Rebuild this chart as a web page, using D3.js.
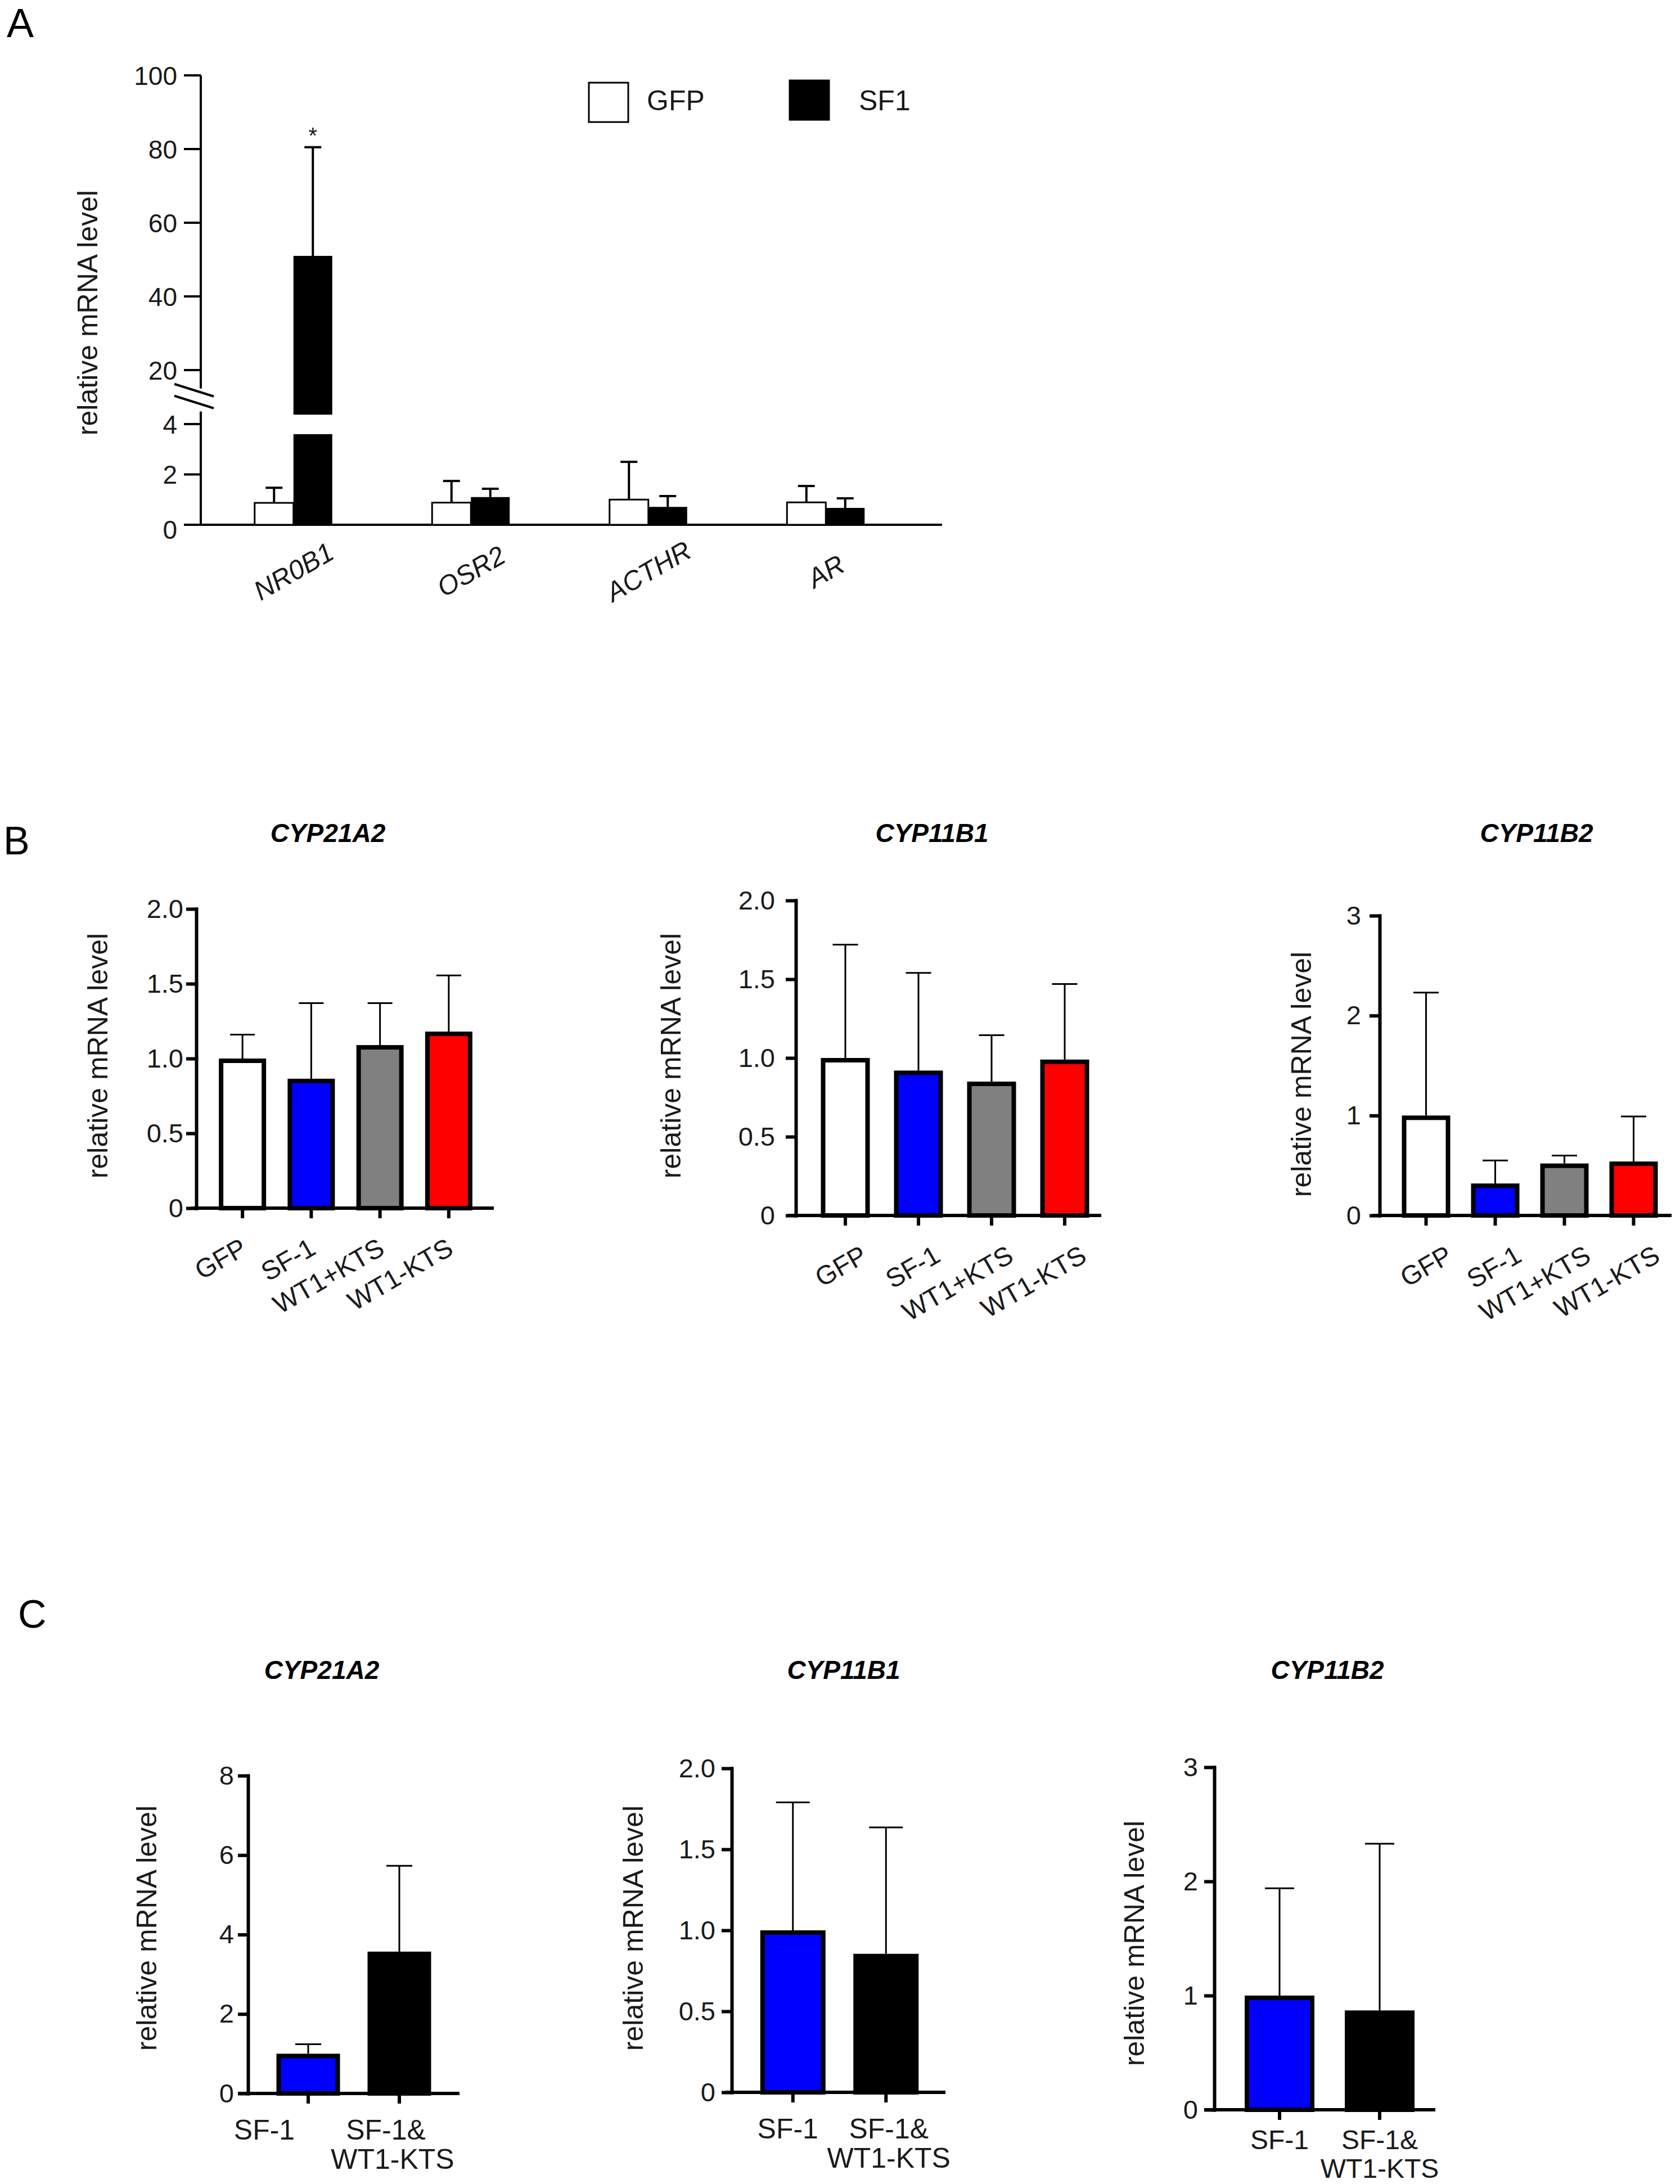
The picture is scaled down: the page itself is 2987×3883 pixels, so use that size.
<!DOCTYPE html>
<html>
<head>
<meta charset="utf-8">
<script src="https://cdn.jsdelivr.net/npm/d3@7/dist/d3.min.js"></script>
<style>
  html, body { margin: 0; padding: 0; background: #ffffff; }
  svg { display: block; }
</style>
</head>
<body>
<script>
// ---------------- DATA ----------------
// Panel A
const aGenes = ["NR0B1", "OSR2", "ACTHR", "AR"];
const aSeries = ["GFP", "SF1"];
const aGfpMean = [0.87, 0.88, 1.0, 0.89];
const aGfpSD   = [0.60, 0.86, 1.5, 0.65];
const aSf1Mean = [51, 1.10, 0.71, 0.67];
const aSf1SD   = [29.5, 0.33, 0.43, 0.38];
const aLowTicks = [0, 2, 4];
const aHighTicks = [20, 40, 60, 80, 100];
const aSignif = ["*", "", "", ""];      // over SF1 bars
const aBreakLow = 3.6;                 // lower segment of broken bar ends here
const aBreakHigh = 7.9;                // upper segment of broken bar starts here

// Panel B
const bGroups = ["GFP", "SF-1", "WT1+KTS", "WT1-KTS"];
const bColors = ["#ffffff", "#0000ff", "#808080", "#ff0000"];
const bTitles = ["CYP21A2", "CYP11B1", "CYP11B2"];
const b21Mean = [1.0, 0.865, 1.09, 1.18];
const b21SD   = [0.16, 0.505, 0.28, 0.375];
const b11B1Mean = [1.0, 0.92, 0.85, 0.99];
const b11B1SD   = [0.72, 0.62, 0.295, 0.48];
const b11B2Mean = [1.0, 0.32, 0.52, 0.54];
const b11B2SD   = [1.23, 0.23, 0.08, 0.45];

// Panel C
const cGroups = ["SF-1", "SF-1&\nWT1-KTS"];
const cColors = ["#0000ff", "#000000"];
const cTitles = ["CYP21A2", "CYP11B1", "CYP11B2"];
const c21Mean = [1.0, 3.57];
const c21SD   = [0.24, 2.16];
const c11B1Mean = [1.0, 0.855];
const c11B1SD   = [0.79, 0.78];
const c11B2Mean = [1.0, 0.87];
const c11B2SD   = [0.94, 1.46];

// Tick sets
const ticks2 = [0, 0.5, 1, 1.5, 2];
const ticks2Labels = ["0", "0.5", "1.0", "1.5", "2.0"];
const ticks3 = [0, 1, 2, 3];
const ticks3Labels = ["0", "1", "2", "3"];
const ticks8 = [0, 2, 4, 6, 8];
const ticks8Labels = ["0", "2", "4", "6", "8"];

const yLabelText = "relative mRNA level";

// ---------------- SETUP ----------------
const W = 2987, H = 3883;
const FONT = "'Liberation Sans', Arial, Helvetica, sans-serif";
const TXT = "#1a1a1a";

const svg = d3.select("body").append("svg")
  .attr("width", W).attr("height", H)
  .attr("viewBox", `0 0 ${W} ${H}`)
  .style("font-family", FONT);

svg.append("rect").attr("width", W).attr("height", H).attr("fill", "#fff");

// Panel letters
[["A", 12, 66, 72], ["B", 6, 1519, 70], ["C", 32, 2894, 70]].forEach(([t, x, y, fs]) => {
  svg.append("text").attr("x", x).attr("y", y).attr("font-size", fs)
    .attr("fill", "#000").text(t);
});

function rotatedYLabel(cx, cy, fs) {
  svg.append("text")
    .attr("transform", `translate(${cx + fs * 0.36},${cy}) rotate(-90)`)
    .attr("text-anchor", "middle")
    .attr("font-size", fs)
    .attr("fill", TXT)
    .text(yLabelText);
}

// ---------------- PANEL A ----------------
(function panelA() {
  const L = {
    axisX: 357, bottom: 933, lowPx: 44.75, highTopY: 134, high20Y: 658,
    lineL: 332, lineR: 1675, band: [364, 1626], barW: 69, capW: 30,
    tick: 30, labY: 1015
  };
  const yLow = d3.scaleLinear().domain([0, 4.5]).range([L.bottom, L.bottom - 4.5 * L.lowPx]);
  const pxHigh = (L.high20Y - L.highTopY) / 80;
  const yHigh = d3.scaleLinear().domain([15, 100]).range([L.high20Y + 5 * pxHigh, L.highTopY]);
  const x0 = d3.scaleBand().domain(aGenes).range(L.band);
  const x1 = d3.scaleBand().domain(aSeries).range([0, 2 * L.barW]);
  const g = svg.append("g");

  // axes lines
  g.append("line").attr("x1", L.axisX).attr("x2", L.axisX)
    .attr("y1", yHigh(100)).attr("y2", yHigh(15))
    .attr("stroke", "#000").attr("stroke-width", 4);
  g.append("line").attr("x1", L.axisX).attr("x2", L.axisX)
    .attr("y1", yLow(4.5)).attr("y2", yLow(0))
    .attr("stroke", "#000").attr("stroke-width", 4);
  g.append("line").attr("x1", L.lineL).attr("x2", L.lineR)
    .attr("y1", yLow(0)).attr("y2", yLow(0))
    .attr("stroke", "#000").attr("stroke-width", 4);

  // ticks
  const tickData = aLowTicks.map(v => ({v, y: yLow(v)}))
    .concat(aHighTicks.map(v => ({v, y: yHigh(v)})));
  g.selectAll("line.ytick").data(tickData).join("line")
    .attr("x1", L.axisX - L.tick).attr("x2", L.axisX)
    .attr("y1", d => d.y).attr("y2", d => d.y)
    .attr("stroke", "#000").attr("stroke-width", 4);
  g.selectAll("text.ytick").data(tickData).join("text")
    .attr("x", L.axisX - L.tick - 12).attr("y", d => d.y)
    .attr("dy", d => d.v === 0 ? "0.55em" : "0.36em")
    .attr("text-anchor", "end").attr("font-size", 46).attr("fill", TXT)
    .text(d => d.v);

  // break marks
  const bx = L.axisX - 47, by = yHigh(15) - 8;
  [0, 21].forEach(off => {
    g.append("line").attr("x1", bx).attr("y1", by + off)
      .attr("x2", bx + 70).attr("y2", by + off + 22)
      .attr("stroke", "#000").attr("stroke-width", 4);
  });

  // bars
  const bars = [];
  aGenes.forEach((gene, i) => {
    bars.push({gene, s: "GFP", mean: aGfpMean[i], sd: aGfpSD[i], fill: "#fff", sig: ""});
    bars.push({gene, s: "SF1", mean: aSf1Mean[i], sd: aSf1SD[i], fill: "#000", sig: aSignif[i]});
  });
  const xOff = (x0.bandwidth() - 2 * L.barW) / 2;
  const yVal = v => v <= aBreakLow ? yLow(v) : yHigh(v);

  bars.forEach(b => {
    const bx0 = x0(b.gene) + xOff + x1(b.s);
    const cx = bx0 + L.barW / 2;
    const top = b.mean + b.sd;
    // error bar
    g.append("line").attr("x1", cx).attr("x2", cx)
      .attr("y1", yVal(b.mean)).attr("y2", yVal(top))
      .attr("stroke", "#000").attr("stroke-width", 4);
    g.append("line").attr("x1", cx - L.capW / 2).attr("x2", cx + L.capW / 2)
      .attr("y1", yVal(top)).attr("y2", yVal(top))
      .attr("stroke", "#000").attr("stroke-width", 4);
    const stroke = b.fill === "#fff" ? 3 : 0;
    if (b.mean <= aBreakLow) {
      g.append("rect").attr("x", bx0).attr("width", L.barW)
        .attr("y", yLow(b.mean)).attr("height", yLow(0) - yLow(b.mean))
        .attr("fill", b.fill).attr("stroke", "#000").attr("stroke-width", stroke);
    } else {
      g.append("rect").attr("x", bx0).attr("width", L.barW)
        .attr("y", yLow(aBreakLow)).attr("height", yLow(0) - yLow(aBreakLow))
        .attr("fill", b.fill);
      g.append("rect").attr("x", bx0).attr("width", L.barW)
        .attr("y", yHigh(b.mean)).attr("height", yHigh(aBreakHigh) - yHigh(b.mean))
        .attr("fill", b.fill);
    }
    if (b.sig) {
      g.append("text").attr("x", cx).attr("y", yVal(top) - 7)
        .attr("text-anchor", "middle").attr("font-size", 40).attr("fill", TXT)
        .text(b.sig);
    }
  });

  // category labels (italic, rotated)
  g.selectAll("text.cat").data(aGenes).join("text")
    .attr("transform", d => `translate(${x0(d) + x0.bandwidth() / 2},${L.labY}) rotate(-30)`)
    .attr("text-anchor", "middle").attr("dy", "0.36em")
    .attr("font-size", 48).attr("font-style", "italic").attr("fill", TXT)
    .text(d => d);

  // legend
  const leg = [{s: "GFP", fill: "#fff", x: 1047, y: 147, tx: 1150},
               {s: "SF1", fill: "#000", x: 1404, y: 143, tx: 1527}];
  leg.forEach(l => {
    g.append("rect").attr("x", l.x).attr("y", l.y).attr("width", 70).attr("height", 70)
      .attr("fill", l.fill).attr("stroke", "#000").attr("stroke-width", 3);
    g.append("text").attr("x", l.tx).attr("y", 196).attr("font-size", 50)
      .attr("fill", TXT).text(l.s);
  });

  rotatedYLabel(155, 556, 50);
})();

// ---------------- GENERIC BAR CHART (panels B, C) ----------------
function barChart(L, d) {
  const g = svg.append("g");
  const y = d3.scaleLinear().domain([0, d.yMax]).range([L.bottom, L.top]);
  const x = d3.scaleBand().domain(d.cats).range(L.band);
  const labDx = i => Array.isArray(L.labDx) ? L.labDx[i] : L.labDx;

  // y axis
  const ya = g.append("g").attr("transform", `translate(${L.axisX},0)`)
    .call(d3.axisLeft(y).tickValues(d.ticks)
      .tickFormat((v, i) => d.tickLabels[i])
      .tickSize(15).tickSizeOuter(0).tickPadding(L.tickPad));
  ya.attr("font-family", null).attr("font-size", null);
  ya.selectAll("path, line").attr("stroke", "#000").attr("stroke-width", 6)
    .attr("stroke-linecap", "square");
  ya.selectAll("text").attr("font-size", 47).attr("fill", TXT).attr("font-family", FONT);

  // x axis line + ticks
  g.append("line").attr("x1", L.lineL).attr("x2", L.lineR)
    .attr("y1", L.bottom).attr("y2", L.bottom)
    .attr("stroke", "#000").attr("stroke-width", 6);
  g.selectAll("line.xt").data(d.cats).join("line")
    .attr("x1", c => x(c) + x.bandwidth() / 2).attr("x2", c => x(c) + x.bandwidth() / 2)
    .attr("y1", L.bottom).attr("y2", L.bottom + 18)
    .attr("stroke", "#000").attr("stroke-width", 6);

  // error bars
  d.cats.forEach((c, i) => {
    const cx = x(c) + x.bandwidth() / 2;
    const top = d.mean[i] + d.sd[i];
    g.append("line").attr("x1", cx).attr("x2", cx)
      .attr("y1", y(d.mean[i])).attr("y2", y(top))
      .attr("stroke", "#000").attr("stroke-width", 3);
    g.append("line").attr("x1", cx - L.capW / 2).attr("x2", cx + L.capW / 2)
      .attr("y1", y(top)).attr("y2", y(top))
      .attr("stroke", "#000").attr("stroke-width", 3);
  });

  // bars
  g.selectAll("rect.bar").data(d.cats).join("rect")
    .attr("x", c => x(c) + (x.bandwidth() - L.barW) / 2)
    .attr("width", L.barW)
    .attr("y", (c, i) => y(d.mean[i]) + 4)
    .attr("height", (c, i) => y(0) - y(d.mean[i]) - 4)
    .attr("fill", (c, i) => d.colors[i])
    .attr("stroke", "#000").attr("stroke-width", 8);

  // category labels
  if (d.rotate) {
    g.selectAll("text.cat").data(d.cats).join("text")
      .attr("transform", (c, i) => `translate(${x(c) + x.bandwidth() / 2 + labDx(i)},${L.bottom + 80}) rotate(-30)`)
      .attr("text-anchor", "end").attr("font-size", 47).attr("fill", TXT)
      .text(c => c);
  } else {
    d.cats.forEach((c, i) => {
      const t = g.append("text").attr("text-anchor", "middle")
        .attr("font-size", L.labFs || 50).attr("fill", TXT);
      c.split("\n").forEach((line, k) => {
        t.append("tspan")
          .attr("x", x(c) + x.bandwidth() / 2 + labDx(i) + (k > 0 ? L.line2Dx || 0 : 0))
          .attr("y", L.bottom + L.labY + k * L.labGap).text(line);
      });
    });
  }

  // title
  g.append("text").attr("x", L.titleX).attr("y", L.titleY)
    .attr("text-anchor", "middle").attr("font-size", 46)
    .attr("font-weight", "bold").attr("font-style", "italic").attr("fill", "#000")
    .text(d.title);

  rotatedYLabel(L.ylabX, L.ylabY, 50);
}

// Panel B
barChart(
  {axisX: 349, top: 1616, bottom: 2148, band: [370, 859], lineL: 340, lineR: 878,
   barW: 76, capW: 44, labDx: 11, tickPad: 8, ylabX: 173, ylabY: 1877, titleX: 583, titleY: 1497},
  {cats: bGroups, colors: bColors, mean: b21Mean, sd: b21SD, yMax: 2,
   ticks: ticks2, tickLabels: ticks2Labels, title: bTitles[0], rotate: true});
barChart(
  {axisX: 1415, top: 1601, bottom: 2161, band: [1438, 1958], lineL: 1400, lineR: 1958,
   barW: 79, capW: 45, labDx: 42, tickPad: 22, ylabX: 1192, ylabY: 1877, titleX: 1657, titleY: 1497},
  {cats: bGroups, colors: bColors, mean: b11B1Mean, sd: b11B1SD, yMax: 2,
   ticks: ticks2, tickLabels: ticks2Labels, title: bTitles[1], rotate: true});
barChart(
  {axisX: 2453, top: 1628, bottom: 2161, band: [2474, 2966], lineL: 2440, lineR: 2972,
   barW: 78, capW: 45, labDx: 50, tickPad: 18, ylabX: 2313, ylabY: 1910, titleX: 2732, titleY: 1497},
  {cats: bGroups, colors: bColors, mean: b11B2Mean, sd: b11B2SD, yMax: 3,
   ticks: ticks3, tickLabels: ticks3Labels, title: bTitles[2], rotate: true});

// Panel C
barChart(
  {axisX: 441, top: 3157, bottom: 3722, band: [467, 791], lineL: 423, lineR: 817,
   barW: 105, capW: 46, labDx: [-78, -24], line2Dx: 12, labY: 82, labGap: 52,
   tickPad: 10, ylabX: 260, ylabY: 3428, titleX: 572, titleY: 2985},
  {cats: cGroups, colors: cColors, mean: c21Mean, sd: c21SD, yMax: 8,
   ticks: ticks8, tickLabels: ticks8Labels, title: cTitles[0], rotate: false});
barChart(
  {axisX: 1301, top: 3144, bottom: 3720, band: [1327, 1658], lineL: 1290, lineR: 1681,
   barW: 108, capW: 60, labDx: [-9, 5], labY: 82, labGap: 52,
   tickPad: 14, ylabX: 1125, ylabY: 3428, titleX: 1500, titleY: 2985},
  {cats: cGroups, colors: cColors, mean: c11B1Mean, sd: c11B1SD, yMax: 2,
   ticks: ticks2, tickLabels: ticks2Labels, title: cTitles[1], rotate: false});
barChart(
  {axisX: 2159, top: 3142, bottom: 3751, band: [2186, 2542], lineL: 2141, lineR: 2552,
   barW: 116, capW: 52, labDx: [0, 0], labY: 70, labGap: 51, labFs: 48,
   tickPad: 14, ylabX: 2016, ylabY: 3455, titleX: 2360, titleY: 2985},
  {cats: cGroups, colors: cColors, mean: c11B2Mean, sd: c11B2SD, yMax: 3,
   ticks: ticks3, tickLabels: ticks3Labels, title: cTitles[2], rotate: false});
</script>
</body>
</html>
